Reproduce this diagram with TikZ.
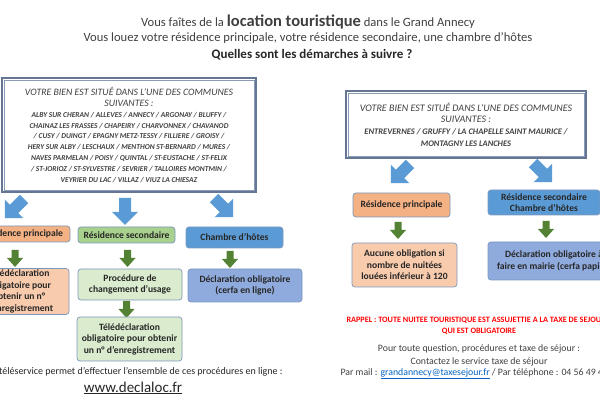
\documentclass[tikz,border=0pt]{standalone}
\usepackage{fontspec}
\setmainfont{Carlito}
\usetikzlibrary{positioning}
\definecolor{grisTexte}{RGB}{64,64,64}
\definecolor{noirTexte}{RGB}{38,38,38}
\definecolor{cadreGris}{RGB}{100,118,148}
\definecolor{cadreClair}{RGB}{140,155,180}
\definecolor{bordBleu}{RGB}{124,152,190}
\definecolor{flecheBleue}{RGB}{91,155,213}
\definecolor{flecheVerte}{RGB}{84,130,53}
\definecolor{fondOrange}{RGB}{244,177,131}
\definecolor{fondOrangeClair}{RGB}{248,203,173}
\definecolor{fondVert}{RGB}{169,209,142}
\definecolor{fondVertClair}{RGB}{218,235,206}
\definecolor{fondBleu}{RGB}{91,155,213}
\definecolor{fondBleuClair}{RGB}{143,170,220}
\definecolor{rougeRappel}{RGB}{255,0,0}
\definecolor{lienBleu}{RGB}{5,99,193}

\begin{document}
\begin{tikzpicture}[
  x=1pt, y=-1pt,
  cadre/.style={draw=cadreGris, line width=1.3pt, fill=white, align=center,
                inner sep=0pt, text=grisTexte},
  filet/.style={draw=cadreClair, line width=0.6pt},
  etape/.style={draw=bordBleu, line width=0.7pt, rounded corners=3pt, align=center,
                inner sep=0pt, text=noirTexte, font=\fontsize{9.6}{11.5}\selectfont\bfseries},
  bloc/.pic={\fill[flecheBleue] (-6,0) -- (6,0) -- (6,14) -- (13,14) -- (0,27)
                -- (-13,14) -- (-6,14) -- cycle;},
  descente/.pic={\fill[flecheVerte] (-3.5,0) -- (3.5,0) -- (3.5,8) -- (8,8) -- (0,17)
                -- (-8,8) -- (-3.5,8) -- cycle;}
]
\useasboundingbox (0,0) rectangle (600,403);
\clip (0,0) rectangle (600,403);
\fill[white] (0,0) rectangle (600,403);

% titre
\node[font=\fontsize{12.6}{14}\selectfont, text=grisTexte] (titre1) at (308,22)
  {Vous faîtes de la {\fontsize{16.5}{18}\selectfont\bfseries location touristique} dans le Grand Annecy};
\node[font=\fontsize{12.6}{14}\selectfont, text=grisTexte] (titre2) at (308,38)
  {Vous louez votre résidence principale, votre résidence secondaire, une chambre d’hôtes};
\node[font=\fontsize{13}{15}\selectfont\bfseries, text=noirTexte] (titre3) at (312,55)
  {Quelles sont les démarches à suivre ?};

% communes, partie gauche
\node[cadre, minimum width=254, minimum height=114, font=\fontsize{7.5}{10.8}\selectfont\itshape]
  (communesG) at (129,135)
  {{\fontsize{9.8}{10.8}\selectfont VOTRE BIEN EST SITUÉ DANS L’UNE DES COMMUNES}\\
   {\fontsize{9.8}{10.8}\selectfont SUIVANTES :}\\
   \textbf{ALBY SUR CHERAN /  ALLEVES / ANNECY /  ARGONAY / BLUFFY /}\\
   \textbf{CHAINAZ LES FRASSES / CHAPEIRY / CHARVONNEX / CHAVANOD}\\
   \textbf{/ CUSY / DUINGT / EPAGNY METZ-TESSY  / FILLIERE / GROISY /}\\
   \textbf{HERY SUR ALBY / LESCHAUX / MENTHON ST-BERNARD / MURES /}\\
   \textbf{NAVES PARMELAN / POISY / QUINTAL / ST-EUSTACHE /  ST-FELIX}\\
   \textbf{/ ST-JORIOZ /  ST-SYLVESTRE / SEVRIER / TALLOIRES MONTMIN /}\\
   \textbf{VEYRIER DU LAC / VILLAZ / VIUZ LA CHIESAZ}};
\draw[filet] ([shift={(2.5,2.5)}]communesG.north west) rectangle ([shift={(-2.5,-2.5)}]communesG.south east);

\pic[rotate=-45] at (24,199) {bloc};
\pic at (125,198) {bloc};
\pic[rotate=45] at (214,198) {bloc};

\node[etape, fill=fondOrange, minimum width=96, minimum height=16] (resPrinG) at (22,234) {Résidence principale};
\node[etape, fill=fondVert, minimum width=97, minimum height=16] (resSecG) at (126.5,235) {Résidence secondaire};
\node[etape, fill=fondBleu, minimum width=97, minimum height=21] (chambreG) at (234.5,237.5) {Chambre d’hôtes};

\pic at (15,250) {descente};
\pic at (127.5,250) {descente};
\pic at (230,251) {descente};

\node[etape, fill=fondOrangeClair, minimum width=100, minimum height=46] (teleG) at (19,291.5)
  {Télédéclaration\\obligatoire pour\\obtenir un n°\\d’enregistrement};
\node[etape, fill=fondVertClair, minimum width=104, minimum height=31] (procG) at (130,284.5)
  {Procédure de\\changement d’usage};
\node[etape, fill=fondBleuClair, minimum width=114, minimum height=33] (declG) at (245,285.5)
  {Déclaration obligatoire\\(cerfa en ligne)};

\pic at (126.5,301) {descente};

\node[etape, fill=fondVertClair, minimum width=105, minimum height=44] (teleSecG) at (129.5,339)
  {Télédéclaration\\obligatoire pour obtenir\\un n° d’enregistrement};

\node[anchor=east, font=\fontsize{10}{12}\selectfont, text=noirTexte] (teleservice) at (286,372)
  {Un téléservice permet d’effectuer l’ensemble de ces procédures en ligne :};
\node[font=\fontsize{15}{17}\selectfont, text=noirTexte] (declaloc) at (133,388)
  {\underline{www.declaloc.fr}};

% communes, partie droite
\node[cadre, minimum width=240, minimum height=67, font=\fontsize{8.5}{11.7}\selectfont\itshape]
  (communesD) at (466,124.5)
  {{\fontsize{10}{11.7}\selectfont VOTRE BIEN EST SITUÉ DANS L’UNE DES COMMUNES}\\
   {\fontsize{10}{11.7}\selectfont SUIVANTES :}\\
   \textbf{ENTREVERNES / GRUFFY  / LA CHAPELLE SAINT MAURICE /}\\
   \textbf{MONTAGNY LES LANCHES}};
\draw[filet] ([shift={(2.5,2.5)}]communesD.north west) rectangle ([shift={(-2.5,-2.5)}]communesD.south east);

\pic[rotate=-45] at (410,164) {bloc};
\pic[rotate=45] at (533,163) {bloc};

\node[etape, fill=fondOrange, minimum width=97, minimum height=24] (resPrinD) at (401.5,205) {Résidence principale};
\node[etape, fill=fondBleu, minimum width=112, minimum height=25] (secChD) at (544,202.5)
  {Résidence secondaire\\Chambre d’hôtes};

\pic at (398,222) {descente};
\pic at (546,221) {descente};

\node[etape, fill=fondOrangeClair, minimum width=105, minimum height=44] (aucuneD) at (404.5,265)
  {Aucune obligation si\\nombre de nuitées\\louées inférieur à 120};
\node[etape, fill=fondBleuClair, minimum width=132, minimum height=38] (declD) at (554,261)
  {Déclaration obligatoire à\\faire en mairie (cerfa papier)};

\node[anchor=west, font=\fontsize{8.2}{10}\selectfont\bfseries, text=rougeRappel] (rappel1) at (343,320)
  {RAPPEL : TOUTE NUITEE TOURISTIQUE EST ASSUJETTIE A LA TAXE DE SEJOUR};
\node[font=\fontsize{8.2}{10}\selectfont\bfseries, text=rougeRappel] (rappel2) at (479,331)
  {QUI EST OBLIGATOIRE};
\node[font=\fontsize{9.8}{12}\selectfont, text=grisTexte] (contact1) at (479,349)
  {Pour toute question, procédures et taxe de séjour :};
\node[font=\fontsize{9.8}{12}\selectfont, text=grisTexte] (contact2) at (479,362)
  {Contactez le service taxe de séjour};
\node[anchor=west, font=\fontsize{9.8}{12}\selectfont, text=grisTexte] (contact3) at (337,374)
  {Par mail : \textcolor{lienBleu}{\underline{grandannecy@taxesejour.fr}} / Par téléphone : 04 56 49 4};
\end{tikzpicture}
\end{document}
